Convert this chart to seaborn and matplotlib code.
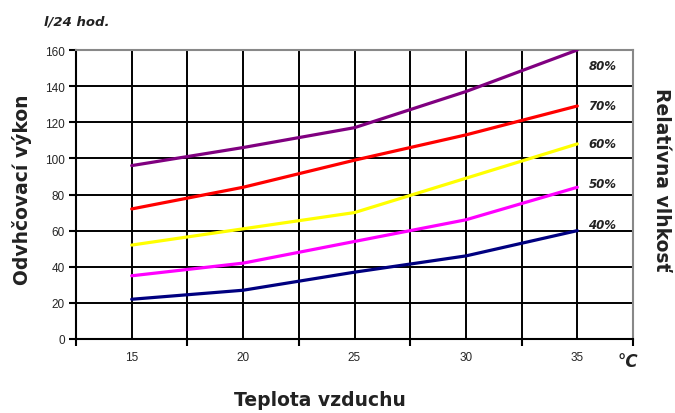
import numpy as np
import pandas as pd
import matplotlib
matplotlib.use("Agg")
import matplotlib.pyplot as plt
import seaborn as sns
from matplotlib.ticker import MultipleLocator, FixedLocator

temps = [15, 20, 25, 30, 35]
rh_labels = ["80%", "70%", "60%", "50%", "40%"]
rh80 = [96, 106, 117, 137, 160]
rh70 = [72, 84, 99, 113, 129]
rh60 = [52, 61, 70, 89, 108]
rh50 = [35, 42, 54, 66, 84]
rh40 = [22, 27, 37, 46, 60]
colors = ["#800080", "#FF0000", "#FFFF00", "#FF00FF", "#000080"]
series = [rh80, rh70, rh60, rh50, rh40]

rows = []
for lab, vals in zip(rh_labels, series):
    for t, v in zip(temps, vals):
        rows.append({"temp": t, "val": v, "rh": lab})
df = pd.DataFrame(rows)

sns.set_style("white")
plt.rcParams['font.family'] = ['DejaVu Sans']

fig = plt.figure(figsize=(6.75, 4.14), dpi=100)
ax = fig.add_axes([76/675, 1-340/414, (633-76)/675, (340-51)/414])

sns.lineplot(data=df, x="temp", y="val", hue="rh", palette=dict(zip(rh_labels, colors)),
             linewidth=2.3, ax=ax, legend=False, zorder=3)

ax.set_xlim(12.5, 37.5)
ax.set_ylim(0, 160)
ax.xaxis.set_major_locator(FixedLocator([12.5, 17.5, 22.5, 27.5, 32.5, 37.5]))
ax.xaxis.set_minor_locator(FixedLocator(temps))
ax.xaxis.set_major_formatter(plt.NullFormatter())
ax.xaxis.set_minor_formatter(plt.FixedFormatter([str(t) for t in temps]))
ax.yaxis.set_major_locator(MultipleLocator(20))

ax.tick_params(axis="x", which="major", direction="out", length=5, width=1.5, color="black")
ax.tick_params(axis="x", which="minor", length=0, pad=9, labelsize=8.5,
               labelfontfamily="Liberation Sans")
ax.tick_params(axis="y", which="major", direction="out", length=5, width=1.5, color="black",
               labelsize=8.5, labelfontfamily="Liberation Sans", pad=3)
ax.tick_params(left=True, bottom=True)

ax.grid(True, which="both", axis="x", color="black", linewidth=1.4, zorder=1)
ax.grid(True, which="major", axis="y", color="black", linewidth=1.4, zorder=1)
ax.set_axisbelow(True)

for s in ["left", "bottom"]:
    ax.spines[s].set_color("black")
    ax.spines[s].set_linewidth(1.5)
for s in ["top", "right"]:
    ax.spines[s].set_color("#888888")
    ax.spines[s].set_linewidth(1.5)

ax.set_xlabel("")
ax.set_ylabel("")

for lab, vals, dy in zip(rh_labels, series, [-11, 0, 0, 3, 4.5]):
    ax.annotate(lab, xy=(temps[-1], vals[-1]), xytext=(8, dy), textcoords="offset points",
                fontsize=8.5, fontweight="bold", fontstyle="italic", va="center", ha="left",
                color="#222222")

fig.text(22/675, 1-190/414, "Odvhčovací výkon", rotation=90, ha="center", va="center",
         fontsize=13.5, fontweight="bold", color="#222222")
fig.text(320/675, 1-401/414, "Teplota vzduchu", ha="center", va="center",
         fontsize=13.5, fontweight="bold", color="#222222")
fig.text(662/675, 1-180/414, "Relatívna vlhkosť", rotation=270, ha="center", va="center",
         fontsize=13.5, fontweight="bold", color="#222222")
fig.text(44/675, 1-22/414, "l/24 hod.", ha="left", va="center",
         fontsize=9.5, fontweight="bold", fontstyle="italic", color="#222222")
fig.text(628/675, 1-362/414, "°C", ha="center", va="center",
         fontsize=12, fontweight="bold", fontstyle="italic", color="#222222")

fig.savefig("out.png", dpi=100)
